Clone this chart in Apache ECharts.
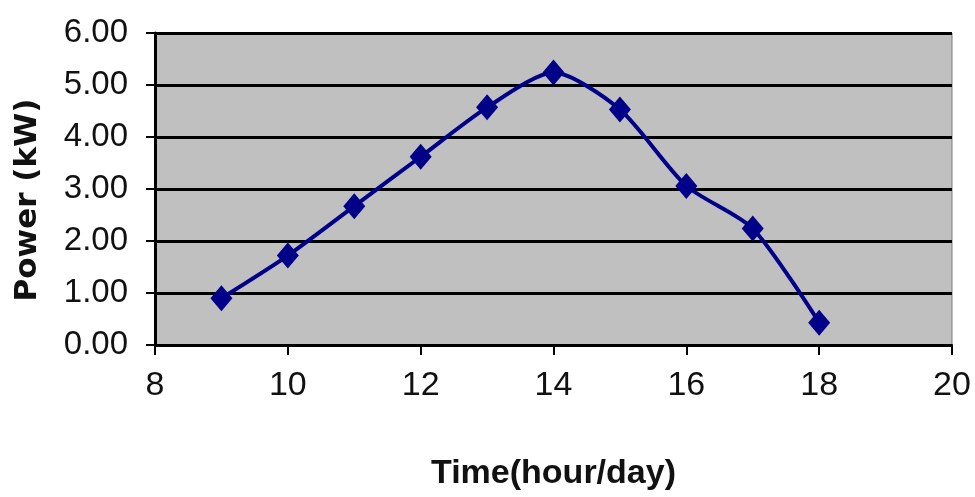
<!DOCTYPE html>
<html>
<head>
<meta charset="utf-8">
<script src="https://cdn.jsdelivr.net/npm/echarts@6/dist/echarts.min.js"></script>
<style>
  html, body { margin: 0; padding: 0; background: #ffffff; }
  #chart { width: 975px; height: 497px; }
</style>
</head>
<body>
<div id="chart"></div>
<script>
// Hourly output of the PV system over one day
const hours = [9, 10, 11, 12, 13, 14, 15, 16, 17, 18];
const powerKW = [0.90, 1.72, 2.67, 3.62, 4.57, 5.24, 4.53, 3.06, 2.24, 0.43];
const xTicks = [8, 10, 12, 14, 16, 18, 20];
const yTicks = [0, 1, 2, 3, 4, 5, 6];

const points = hours.map((h, i) => [h, powerKW[i]]);

const chart = echarts.init(document.getElementById('chart'), null, { renderer: 'canvas' });

chart.setOption({
  backgroundColor: '#ffffff',
  animation: false,
  grid: {
    left: 155, top: 33, right: 23, bottom: 152,
    show: true,
    backgroundColor: '#c0c0c0',
    borderColor: '#7a7a7a',
    borderWidth: 1
  },
  xAxis: {
    type: 'value',
    min: xTicks[0],
    max: xTicks[xTicks.length - 1],
    interval: 2,
    name: 'Time(hour/day)',
    nameLocation: 'middle',
    nameGap: 112,
    nameTextStyle: {
      fontFamily: 'Liberation Sans, Arial, sans-serif',
      fontWeight: 'bold',
      fontSize: 34,
      color: '#111111'
    },
    axisLine: { show: true, onZero: false, lineStyle: { color: '#000000', width: 2 } },
    axisTick: { show: true, inside: false, length: 10, lineStyle: { color: '#000000', width: 2 } },
    axisLabel: {
      margin: 24,
      fontFamily: 'Liberation Sans, Arial, sans-serif',
      fontSize: 34,
      color: '#111111'
    },
    splitLine: { show: false }
  },
  yAxis: {
    type: 'value',
    min: yTicks[0],
    max: yTicks[yTicks.length - 1],
    interval: 1,
    name: 'Power (kW)',
    nameLocation: 'middle',
    nameGap: 112,
    nameRotate: 90,
    nameTextStyle: {
      fontFamily: 'DejaVu Sans, sans-serif',
      fontWeight: 'bold',
      fontSize: 31,
      color: '#111111',
      padding: [0, 22, 0, 0]
    },
    axisLine: { show: true, lineStyle: { color: '#000000', width: 3 } },
    axisTick: { show: true, inside: false, length: 9, lineStyle: { color: '#000000', width: 2 } },
    axisLabel: {
      margin: 27,
      fontFamily: 'Liberation Sans, Arial, sans-serif',
      fontSize: 33,
      color: '#111111',
      formatter: v => v.toFixed(2)
    },
    splitLine: { show: true, lineStyle: { color: '#000000', width: 3 } }
  },
  series: [{
    type: 'line',
    data: points,
    smooth: 0.25,
    symbol: 'diamond',
    symbolSize: [22, 26],
    itemStyle: { color: '#000088' },
    lineStyle: { color: '#000088', width: 4 }
  }]
});
</script>
</body>
</html>
